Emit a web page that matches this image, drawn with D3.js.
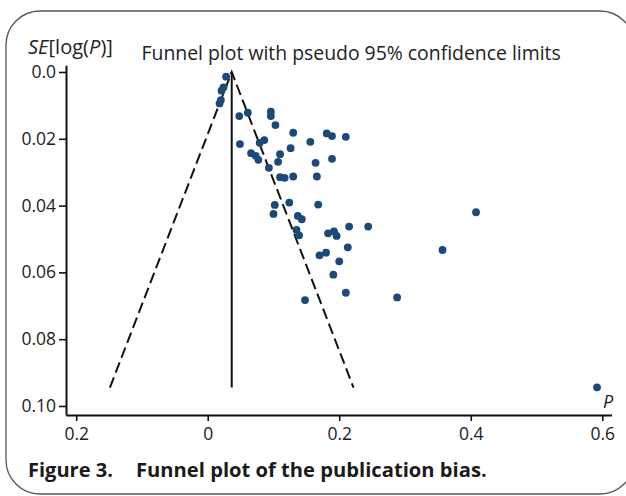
<!DOCTYPE html>
<html><head><meta charset="utf-8">
<script src="https://cdn.jsdelivr.net/npm/d3@7"></script>
<style>body{margin:0;background:#fff}svg{display:block}</style>
</head><body>
<script>
// ---- data ----
const pValues = [0.028,0.024,0.021,0.020,0.018,0.048,0.061,0.096,0.096,0.103,
  0.130,0.181,0.189,0.210,0.156,0.049,0.079,0.086,0.126,0.110,
  0.066,0.073,0.077,0.107,0.164,0.189,0.093,0.110,0.117,0.130,
  0.166,0.102,0.100,0.124,0.168,0.137,0.143,0.135,0.139,0.183,
  0.192,0.196,0.215,0.244,0.408,0.213,0.170,0.180,0.200,0.357,
  0.191,0.210,0.148,0.288,0.592];
const seValues = [0.0014,0.0046,0.0056,0.0084,0.0094,0.0132,0.0122,0.0119,0.0132,0.0159,
  0.0182,0.0184,0.0192,0.0194,0.0209,0.0216,0.0212,0.0204,0.0228,0.0246,
  0.0243,0.0251,0.0263,0.0269,0.0272,0.0260,0.0287,0.0315,0.0317,0.0313,
  0.0313,0.0398,0.0425,0.0391,0.0397,0.0431,0.0441,0.0473,0.0489,0.0483,
  0.0477,0.0491,0.0463,0.0463,0.0420,0.0525,0.0549,0.0541,0.0567,0.0533,
  0.0607,0.0661,0.0683,0.0675,0.0944];
const xTickValues = [-0.2, 0, 0.2, 0.4, 0.6];
const xTickLabels = ["0.2", "0", "0.2", "0.4", "0.6"];
const yTickValues = [0, 0.02, 0.04, 0.06, 0.08, 0.10];
const yTickLabels = ["0.0", "0.02", "0.04", "0.06", "0.08", "0.10"];
const pooledEstimate = 0.0365;
const maxSE = 0.0945;
const zCrit = 1.96;

const W = 626, H = 496;
const FONT = "'Open Sans', 'Noto Sans', sans-serif";
const svg = d3.select("body").append("svg").attr("width", W).attr("height", H);

// frame
svg.append("rect").attr("x", 6).attr("y", 11).attr("width", 628).attr("height", 483)
  .attr("rx", 34).attr("ry", 34).attr("fill", "none").attr("stroke", "#555").attr("stroke-width", 1.3);

const x = d3.scaleLinear().domain([-0.2155, 0.614]).range([66, 611.5]);
const y = d3.scaleLinear().domain([-0.002, 0.1027]).range([65.3, 415]);

function styleAxis(g) {
  g.attr("font-family", FONT).attr("font-size", 17.5);
  g.select(".domain").attr("stroke", "#111").attr("stroke-width", 2);
  g.selectAll(".tick line").attr("stroke", "#111").attr("stroke-width", 1.6);
  g.selectAll(".tick text").attr("fill", "#222");
}

svg.append("g").attr("transform", "translate(0,415)")
  .call(d3.axisBottom(x).tickValues(xTickValues).tickFormat((d, i) => xTickLabels[i])
    .tickSize(6).tickPadding(7).tickSizeOuter(0))
  .call(styleAxis);

svg.append("g").attr("transform", "translate(66,0)")
  .call(d3.axisLeft(y).tickValues(yTickValues).tickFormat((d, i) => yTickLabels[i])
    .tickSize(7).tickPadding(3).tickSizeOuter(0))
  .call(styleAxis);

// funnel
const line = d3.line().x(d => x(d[0])).y(d => y(d[1]));
const funnel = [
  [pooledEstimate - zCrit * maxSE, maxSE],
  [pooledEstimate, 0],
  [pooledEstimate + zCrit * maxSE, maxSE]
];
svg.append("path").attr("d", line(funnel)).attr("fill", "none")
  .attr("stroke", "#111").attr("stroke-width", 2).attr("stroke-dasharray", "11,5");
svg.append("path").attr("d", line([[pooledEstimate, 0], [pooledEstimate, maxSE]]))
  .attr("fill", "none").attr("stroke", "#111").attr("stroke-width", 2);

// points
svg.append("g").selectAll("circle").data(pValues).join("circle")
  .attr("cx", d => x(d)).attr("cy", (d, i) => y(seValues[i]))
  .attr("r", 3.9).attr("fill", "#1c4a78");

// text helper: fit to width
function fit(t, target) {
  const w = t.node().getComputedTextLength();
  const fs = parseFloat(t.attr("font-size"));
  t.attr("font-size", fs * target / w);
  return t;
}

// title
fit(svg.append("text").attr("x", 141.5).attr("y", 60).attr("font-family", FONT)
  .attr("font-size", 19).attr("fill", "#222")
  .text("Funnel plot with pseudo 95% confidence limits"), 419.5);

// y title
const yt = svg.append("text").attr("x", 28).attr("y", 54).attr("font-family", FONT)
  .attr("font-size", 18.5).attr("fill", "#222");
yt.append("tspan").attr("font-style", "italic").text("SE");
yt.append("tspan").text("[log(");
yt.append("tspan").attr("font-style", "italic").text("P");
yt.append("tspan").text(")]");
fit(yt, 85);

// x title
svg.append("text").attr("x", 603).attr("y", 408).attr("font-family", FONT)
  .attr("font-size", 18).attr("font-style", "italic").attr("fill", "#222").text("P");

// caption
fit(svg.append("text").attr("x", 28).attr("y", 477).attr("font-family", FONT)
  .attr("font-size", 19).attr("font-weight", "bold").attr("fill", "#1a1a1a")
  .text("Figure 3."), 85);
fit(svg.append("text").attr("x", 136).attr("y", 477).attr("font-family", FONT)
  .attr("font-size", 19).attr("font-weight", "bold").attr("fill", "#1a1a1a")
  .text("Funnel plot of the publication bias."), 351);
</script>
</body></html>
